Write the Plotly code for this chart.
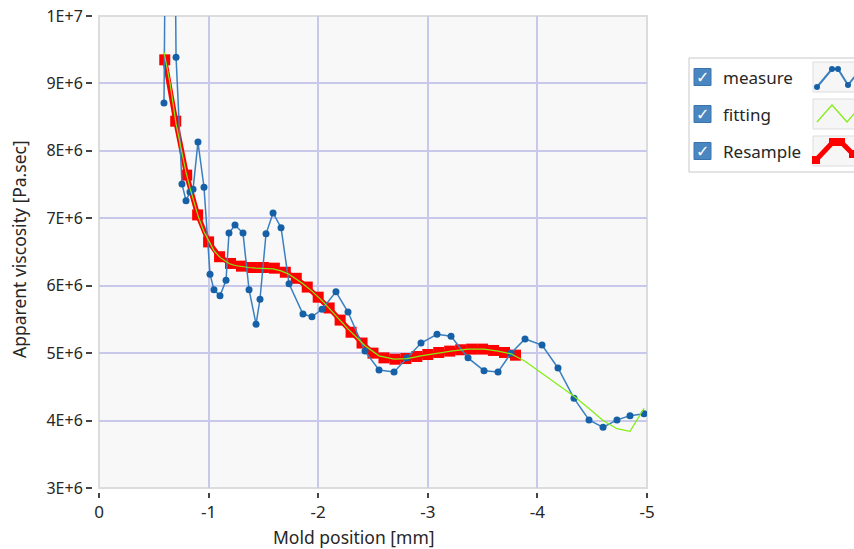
import plotly.graph_objects as go

# ---------------- data ----------------
measure_x = [-0.593, -0.648, -0.703, -0.757, -0.794, -0.830, -0.858, -0.903, -0.958,
             -1.013, -1.049, -1.104, -1.159, -1.186, -1.241, -1.314, -1.369, -1.433,
             -1.469, -1.524, -1.588, -1.661, -1.734, -1.861, -1.943, -2.035, -2.162,
             -2.272, -2.427, -2.555, -2.692, -2.810, -2.938, -3.084, -3.212, -3.367,
             -3.513, -3.641, -3.759, -3.887, -4.042, -4.188, -4.334, -4.471, -4.599,
             -4.726, -4.845, -4.973]
measure_y = [8.71e6, 2.0e7, 9.39e6, 7.51e6, 7.26e6, 7.39e6, 7.43e6, 8.13e6, 7.46e6,
             6.17e6, 5.94e6, 5.85e6, 6.08e6, 6.78e6, 6.90e6, 6.78e6, 5.94e6, 5.43e6,
             5.80e6, 6.77e6, 7.08e6, 6.86e6, 6.03e6, 5.58e6, 5.54e6, 5.65e6, 5.91e6,
             5.61e6, 5.03e6, 4.75e6, 4.72e6, 4.93e6, 5.15e6, 5.28e6, 5.25e6, 4.93e6,
             4.74e6, 4.72e6, 5.00e6, 5.21e6, 5.12e6, 4.78e6, 4.33e6, 4.01e6, 3.90e6,
             4.01e6, 4.07e6, 4.10e6]
fitting_y = [9.47e6, 9.00e6, 8.40e6, 7.95e6, 7.68e6, 7.45e6, 7.30e6, 7.04e6, 6.80e6,
             6.62e6, 6.52e6, 6.42e6, 6.36e6, 6.33e6, 6.30e6, 6.28e6, 6.27e6, 6.26e6,
             6.26e6, 6.26e6, 6.25e6, 6.22e6, 6.17e6, 6.03e6, 5.92e6, 5.78e6, 5.56e6,
             5.36e6, 5.11e6, 4.96e6, 4.91e6, 4.92e6, 4.96e6, 5.00e6, 5.03e6, 5.06e6,
             5.06e6, 5.03e6, 4.99e6, 4.88e6, 4.70e6, 4.53e6, 4.36e6, 4.18e6, 4.00e6,
             3.88e6, 3.84e6, 4.18e6]
resample_x = [-0.6, -0.7, -0.8, -0.9, -1.0, -1.1, -1.2, -1.3, -1.4, -1.5, -1.6,
              -1.7, -1.8, -1.9, -2.0, -2.1, -2.2, -2.3, -2.4, -2.5, -2.6, -2.7,
              -2.8, -2.9, -3.0, -3.1, -3.2, -3.3, -3.4, -3.5, -3.6, -3.7, -3.8]
resample_y = [9.35e6, 8.44e6, 7.64e6, 7.05e6, 6.65e6, 6.43e6, 6.33e6, 6.29e6, 6.27e6,
              6.27e6, 6.26e6, 6.20e6, 6.11e6, 5.98e6, 5.83e6, 5.67e6, 5.49e6, 5.31e6,
              5.15e6, 5.00e6, 4.93e6, 4.91e6, 4.92e6, 4.95e6, 4.98e6, 5.01e6, 5.03e6,
              5.05e6, 5.06e6, 5.06e6, 5.04e6, 5.01e6, 4.97e6]

x_tickvals = [0, -1, -2, -3, -4, -5]
x_ticktext = ["0", "-1", "-2", "-3", "-4", "-5"]
y_tickvals = [3e6, 4e6, 5e6, 6e6, 7e6, 8e6, 9e6, 1e7]
y_ticktext = ["3E+6", "4E+6", "5E+6", "6E+6", "7E+6", "8E+6", "9E+6", "1E+7"]
legend_names = ["measure", "fitting", "Resample"]

x_title = "Mold position [mm]"
y_title = "Apparent viscosity [Pa.sec]"

# ---------------- layout geometry (pixels) ----------------
W, H = 854, 549
ML, MR, MT, MB = 92, 207, 16, 57
PW, PH = W - ML - MR, H - MT - MB
PLOT_L, PLOT_B = 99, 488


def px(xp):
    return (xp - ML) / PW


def py(yp):
    return (H - MB - yp) / PH


FONT = "Noto Sans"
TXT = "#262626"

fig = go.Figure()
fig.add_trace(go.Scatter(x=resample_x, y=resample_y, mode="lines+markers",
                         name=legend_names[2],
                         line=dict(color="#ff0000", width=5),
                         marker=dict(symbol="square", size=11, color="#ff0000")))
fig.add_trace(go.Scatter(x=measure_x, y=measure_y, mode="lines+markers",
                         name=legend_names[0],
                         line=dict(color="#3a80c0", width=1.5),
                         marker=dict(symbol="circle", size=7, color="#1560a6")))
fig.add_trace(go.Scatter(x=measure_x, y=fitting_y, mode="lines",
                         name=legend_names[1],
                         line=dict(color="#80ee10", width=1.2)))

shapes = []
annotations = []

# plot frame
shapes.append(dict(type="rect", xref="x domain", yref="y domain", x0=0, x1=1, y0=0, y1=1,
                   line=dict(color="#dcdcdc", width=2), layer="below"))

# custom legend
shapes.append(dict(type="rect", xref="paper", yref="paper",
                   x0=px(689), x1=px(870), y0=py(172), y1=py(58),
                   line=dict(color="#c8c8c8", width=1), fillcolor="white"))
rows = [77, 114, 151]
for i, yc in enumerate(rows):
    shapes.append(dict(type="rect", xref="paper", yref="paper",
                       x0=px(694), x1=px(711), y0=py(yc + 8.5), y1=py(yc - 8.5),
                       line=dict(color="#3a74ae", width=1), fillcolor="#4a86c0"))
    annotations.append(dict(text="✓", xref="paper", yref="paper", x=px(702.5), y=py(yc),
                            showarrow=False, xanchor="center", yanchor="middle",
                            font=dict(family="DejaVu Sans", size=16, color="white")))
    annotations.append(dict(text=legend_names[i], xref="paper", yref="paper",
                            x=px(721), y=py(yc), showarrow=False,
                            xanchor="left", yanchor="middle",
                            font=dict(family=FONT, size=17, color=TXT)))
    shapes.append(dict(type="rect", xref="paper", yref="paper",
                       x0=px(813), x1=px(870), y0=py(yc + 15), y1=py(yc - 15),
                       line=dict(color="#dddddd", width=1), fillcolor="#f6f6f6"))


def path(points):
    return "M " + " L ".join(f"{px(a):.5f},{py(b):.5f}" for a, b in points)


# measure icon
mpts = [(817, 87), (832, 69), (838, 69), (848, 85), (860, 70)]
shapes.append(dict(type="path", xref="paper", yref="paper", path=path(mpts),
                   line=dict(color="#3a80c0", width=2)))
for a, b in mpts[:4]:
    shapes.append(dict(type="circle", xref="paper", yref="paper",
                       x0=px(a - 3), x1=px(a + 3), y0=py(b + 3), y1=py(b - 3),
                       line=dict(width=0), fillcolor="#1560a6"))
# fitting icon
shapes.append(dict(type="path", xref="paper", yref="paper",
                   path=path([(817, 122), (832, 105), (847, 122), (860, 107)]),
                   line=dict(color="#80ee10", width=1.2)))
# resample icon
rpts = [(816, 160), (833, 142), (841, 142), (853, 154), (860, 148)]
shapes.append(dict(type="path", xref="paper", yref="paper", path=path(rpts),
                   line=dict(color="#ff0000", width=5)))
for a, b in rpts[:4]:
    shapes.append(dict(type="rect", xref="paper", yref="paper",
                       x0=px(a - 4), x1=px(a + 4), y0=py(b + 4), y1=py(b - 4),
                       line=dict(width=0), fillcolor="#ff0000"))

# axis titles
annotations.append(dict(text=x_title, xref="paper", yref="paper", x=px(354), y=py(537),
                        showarrow=False, xanchor="center", yanchor="middle",
                        font=dict(family=FONT, size=17.5, color=TXT)))
annotations.append(dict(text=y_title, xref="paper", yref="paper", x=px(19), y=py(249),
                        showarrow=False, xanchor="center", yanchor="middle", textangle=-90,
                        font=dict(family=FONT, size=17.5, color=TXT)))

fig.update_layout(
    width=W, height=H,
    margin=dict(l=ML, r=MR, t=MT, b=MB, pad=0, autoexpand=False),
    paper_bgcolor="white", plot_bgcolor="#f8f8f8",
    showlegend=False,
    font=dict(family=FONT, size=15, color=TXT),
    shapes=shapes, annotations=annotations,
    xaxis=dict(range=[0, -5], domain=[px(PLOT_L), 1], anchor="free", position=0,
               tickvals=x_tickvals, ticktext=x_ticktext,
               ticks="outside", ticklen=5, tickwidth=1.5, tickcolor="#444",
               showgrid=True, gridcolor="#c8c8ea", gridwidth=1.5,
               zeroline=False, showline=False, automargin=False,
               tickfont=dict(family=FONT, size=17, color=TXT)),
    yaxis=dict(range=[3e6, 1e7], domain=[py(PLOT_B), 1], anchor="free", position=0,
               tickvals=y_tickvals, ticktext=y_ticktext,
               ticks="outside", ticklen=6, tickwidth=1.5, tickcolor="#444",
               showgrid=True, gridcolor="#c8c8ea", gridwidth=1.5,
               zeroline=False, showline=False, automargin=False,
               tickfont=dict(family=FONT, size=16, color=TXT)),
)

fig.write_html("out.html")
